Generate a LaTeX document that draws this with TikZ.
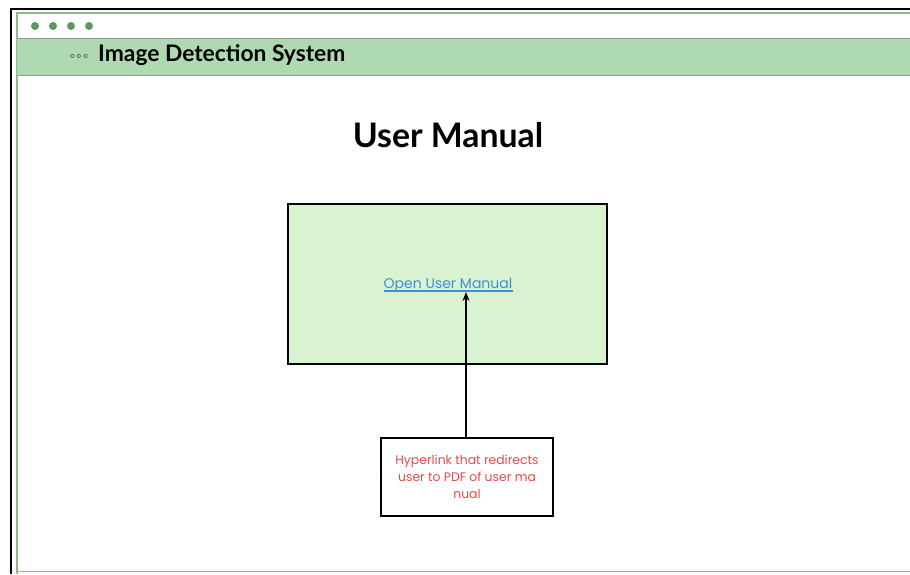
\documentclass[tikz,border=0pt]{standalone}
\usepackage{fontspec}
\setmainfont{Lato}
\newfontfamily\popfont{Poppins}
\newfontfamily\symfont{DejaVu Sans}
\usetikzlibrary{arrows.meta}
\definecolor{hdrgreen}{HTML}{AFD9B0}
\definecolor{boxgreen}{HTML}{D9F2D0}
\definecolor{dotgreen}{HTML}{5A9A5E}
\definecolor{framegreen}{HTML}{8DB98D}
\definecolor{linkblue}{HTML}{3A8FD8}
\definecolor{notered}{HTML}{E84A4A}
\tikzset{
  boxstyle/.style={draw=black, line width=2pt, inner sep=0pt},
  dotstyle/.style={circle, fill=dotgreen, minimum size=8pt, inner sep=0pt},
}
\begin{document}
\begin{tikzpicture}[x=1pt,y=-1pt]
\useasboundingbox (0,0) rectangle (910,574);
\fill[white] (0,0) rectangle (910,574);
% outer black frame
\draw[black, line width=2pt] (11,574) -- (11,9) -- (910,9);
% green frame
\draw[framegreen, line width=1.5pt] (17,574) -- (17,13) -- (910,13);
\draw[framegreen, line width=1.5pt] (17,571.5) -- (910,571.5);
% header band
\fill[hdrgreen] (17,38) rectangle (910,75);
\draw[gray!80, line width=1pt] (17,38) -- (910,38);
\draw[gray!80, line width=1pt] (17,75) -- (910,75);
% dots
\node[dotstyle] (d1) at (35,26) {};
\node[dotstyle] (d2) at (53,26) {};
\node[dotstyle] (d3) at (71,26) {};
\node[dotstyle] (d4) at (89,26) {};
% small icon
\node[inner sep=0pt, text=gray!70!black] (ico) at (79,57) {\symfont\fontsize{13}{13}\selectfont ∘\kern-1.5pt∘\kern-1.5pt∘};
\node[anchor=west, inner sep=0pt, font=\fontsize{22.8}{26}\selectfont\bfseries] (title) at (98,55) {Image Detection System};
% heading
\node[inner sep=0pt, font=\fontsize{33.8}{38}\selectfont\bfseries] (heading) at (448,135) {User Manual};
% main box
\node[boxstyle, fill=boxgreen, minimum width=319pt, minimum height=160pt] (main) at (447.5,284) {};
\node[inner sep=0pt, text=linkblue, font=\popfont\fontsize{14}{16}\selectfont] (link) at (448,285) {Open User Manual};
\draw[linkblue, line width=1.3pt] ([yshift=-2.5pt]link.base west) -- ([yshift=-2.5pt]link.base east);
% note box
\node[boxstyle, minimum width=172pt, minimum height=78pt] (note) at (467,477) {};
\node[inner sep=0pt, align=center, text=notered, font=\popfont\fontsize{12.4}{17}\selectfont] (notetext) at (467,477) {Hyperlink that redirects\\user to PDF of user ma\\nual};
\coordinate (arrowtip) at (466,292);
\draw[-{Stealth[length=9pt,width=7pt]}, line width=1.8pt] (note.north -| arrowtip) -- (arrowtip);
\end{tikzpicture}
\end{document}
